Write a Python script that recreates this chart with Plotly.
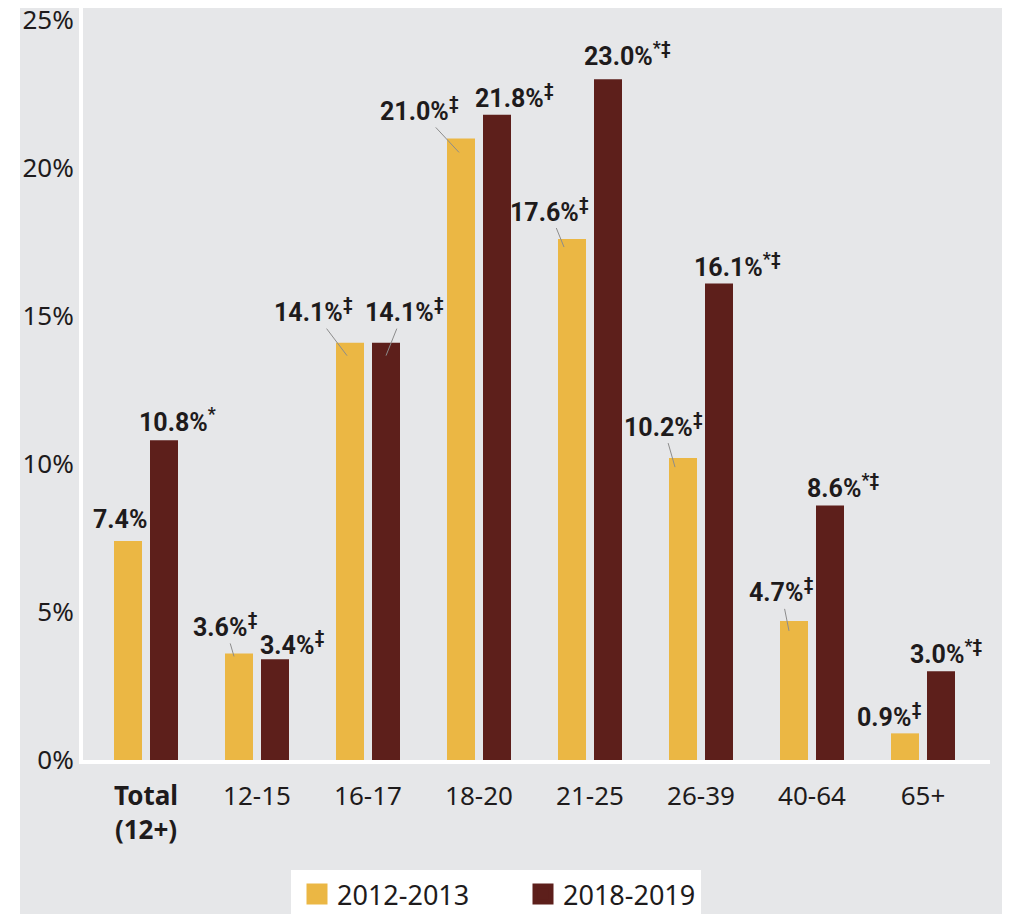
import plotly.graph_objects as go

categories = ["Total (12+)", "12-15", "16-17", "18-20", "21-25", "26-39", "40-64", "65+"]
tick_labels = ["<b>Total<br>(12+)</b>", "12-15", "16-17", "18-20", "21-25", "26-39", "40-64", "65+"]
series_names = ["2012-2013", "2018-2019"]
values_2012 = [7.4, 3.6, 14.1, 21.0, 17.6, 10.2, 4.7, 0.9]
values_2018 = [10.8, 3.4, 14.1, 21.8, 23.0, 16.1, 8.6, 3.0]
flags_2012 = ["", "‡", "‡", "‡", "‡", "‡", "‡", "‡"]
flags_2018 = ["*", "‡", "‡", "‡", "*‡", "*‡", "*‡", "*‡"]
y_ticks = [0, 5, 10, 15, 20, 25]

# ---- style / placement ----
COL_2012 = "#ebb744"
COL_2018 = "#5d1f1b"
BG = "#e6e7e9"
TXT = "#1e1b1c"
LABEL_FAM = "Roboto, Liberation Sans, sans-serif"
TICK_FAM = "Noto Sans, Open Sans, sans-serif"
LABEL_FONT = dict(family=LABEL_FAM, size=25, color=TXT, weight="bold")
TICK_FONT = dict(family=TICK_FAM, size=26, color=TXT)
LEGEND_FONT = dict(family=TICK_FAM, size=27, color=TXT)
BAR_OFF = 18
# label offsets in px relative to bar top centre: (dx, dy, leader, tip_dx, tip_dy)
place_2012 = [(-8, -21, False, 0, 0), (-14, -28, True, -5, 3), (-37, -32, True, -3, 13),
              (-42, -29, True, -2, 14), (-23, -29, True, -8, 8), (-20, -33, True, -8, 9),
              (-13, -30, True, -5, 10), (-16, -18, False, 0, 0)]
place_2018 = [(13, -20, False, 0, 0), (17, -16, False, 0, 0), (18, -32, True, 0, 13),
              (17, -18, False, 0, 0), (19, -25, False, 0, 0), (18, -18, False, 0, 0),
              (13, -19, False, 0, 0), (5, -19, False, 0, 0)]

fig = go.Figure()
fig.add_trace(go.Bar(x=categories, y=values_2012, name=series_names[0],
                     marker=dict(color=COL_2012, line=dict(width=0)), showlegend=False))
fig.add_trace(go.Bar(x=categories, y=values_2018, name=series_names[1],
                     marker=dict(color=COL_2018, line=dict(width=0)), showlegend=False))
for nm, col, lg in zip(series_names, [COL_2012, COL_2018], ["legend", "legend2"]):
    fig.add_trace(go.Scatter(x=[None], y=[None], mode="markers", name=nm, legend=lg,
                             marker=dict(symbol="square", size=16, color=col,
                                         line=dict(color=col, width=5))))

annotations = []
for vals, flags, place, side in [(values_2012, flags_2012, place_2012, -1),
                                 (values_2018, flags_2018, place_2018, 1)]:
    for cat, v, fl, (dx, dy, leader, tdx, tdy) in zip(categories, vals, flags, place):
        txt = f"{v:.1f}%" + (f"<sup>{fl}</sup>" if fl else "")
        if leader:
            annotations.append(dict(
                x=cat, y=v, xref="x", yref="y", text=txt,
                xshift=side * BAR_OFF + tdx, yshift=-tdy,
                showarrow=True, arrowhead=0, arrowwidth=1, arrowcolor="#8c8c8c",
                ax=dx - tdx, ay=dy - tdy, axref="pixel", ayref="pixel",
                font=LABEL_FONT))
        else:
            annotations.append(dict(
                x=cat, y=v, xref="x", yref="y", text=txt,
                xshift=side * BAR_OFF + dx, yshift=-dy,
                showarrow=False, xanchor="center", yanchor="middle",
                font=LABEL_FONT))

OFF = 8                      # page body margin
W, H = 1010 - OFF, 914 - OFF
L, R, T, B = 83 - OFF, 990 - OFF, 0, 760 - OFF
pw, ph = R - L, B - T
px_per_pct = 29.6
cat_w = 111
x0 = -(146 - OFF - L) / cat_w
leg_top = 1 - (870 - OFF) / H

fig.update_layout(
    width=W, height=H,
    margin=dict(l=L, r=W - R, t=T, b=H - B, pad=0, autoexpand=False),
    paper_bgcolor=BG, plot_bgcolor=BG,
    barmode="group", bargap=1 - 72 / cat_w, bargroupgap=8 / 36,
    annotations=annotations,
    showlegend=True,
    legend=dict(orientation="h", xref="container", yref="container",
                x=(291 - OFF) / W, xanchor="left", y=leg_top, yanchor="top",
                bgcolor="white", borderwidth=0, entrywidth=188, indentation=6,
                font=LEGEND_FONT, itemsizing="trace"),
    legend2=dict(orientation="h", xref="container", yref="container",
                 x=(523 - OFF) / W, xanchor="left", y=leg_top, yanchor="top",
                 bgcolor="white", borderwidth=0,
                 font=LEGEND_FONT, itemsizing="trace"),
    shapes=[dict(type="rect", xref="paper", yref="paper",
                 x0=-L / pw, x1=-(L - (20 - OFF)) / pw, y0=-1, y1=2,
                 fillcolor="white", line=dict(width=0), layer="below")],
)
fig.update_xaxes(range=[x0, x0 + pw / cat_w], tickvals=categories, ticktext=tick_labels,
                 showgrid=False, zeroline=False, showline=True, linecolor="white", linewidth=4,
                 ticks="", ticklabelstandoff=10, tickfont=TICK_FONT)
fig.update_yaxes(range=[0, ph / px_per_pct], tickvals=y_ticks,
                 ticktext=[f"{t}%" for t in y_ticks],
                 showgrid=False, zeroline=False, showline=True, linecolor="white", linewidth=4,
                 ticks="", ticklabelstandoff=0, ticklabeloverflow="allow", tickfont=TICK_FONT)

fig.write_html("out.html")
